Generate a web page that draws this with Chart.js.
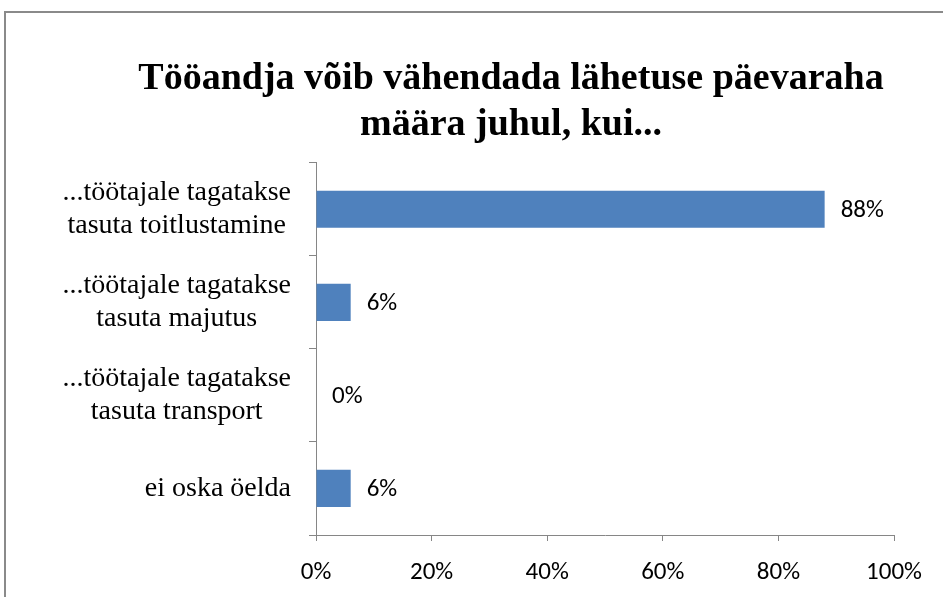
<!DOCTYPE html>
<html>
<head>
<meta charset="utf-8">
<script src="https://cdn.jsdelivr.net/npm/chart.js@4/dist/chart.umd.min.js"></script>
<style>
    html, body { margin: 0; padding: 0; background: #fff; overflow: hidden; }
    #frame {
        position: absolute; left: 4px; top: 11px;
        width: 2000px; height: 2000px;
        border: 2px solid #8a8a8a;
    }
    #wrap { position: absolute; left: 0; top: 0; width: 1022px; height: 597px; }
</style>
</head>
<body>
<div id="frame"></div>
<div id="wrap"><canvas id="chart" width="1022" height="597"></canvas></div>
<script>
const TITLE_LINES = ['Tööandja võib vähendada lähetuse päevaraha', 'määra juhul, kui...']

const categories = [
    ['...töötajale tagatakse', 'tasuta toitlustamine'],
    ['...töötajale tagatakse', 'tasuta majutus'],
    ['...töötajale tagatakse', 'tasuta transport'],
    ['ei oska öelda']
]
const shares = [88, 6, 0, 6]

const AXIS_MIN = 0
const AXIS_MAX = 100
const AXIS_STEP = 20

const AXIS_COLOR = '#868686'
const BAR_COLOR = '#4F81BD'
const SANS = 'Carlito, Lato, sans-serif'
const SERIF = '"Liberation Serif", "Times New Roman", serif'


// category labels: lines centred on each other, block right-aligned to the axis
const categoryLabels = {
    id: 'categoryLabels',
    afterDraw(chart) {
        const ctx = chart.ctx
        const yScale = chart.scales.y
        const lineH = 33
        ctx.save()
        ctx.font = '28px ' + SERIF
        ctx.fillStyle = '#000'
        ctx.textAlign = 'center'
        ctx.textBaseline = 'middle'
        categories.forEach((lines, i) => {
            const y = yScale.getPixelForValue(i)
            const blockW = Math.max(...lines.map(l => ctx.measureText(l).width))
            const cx = chart.chartArea.left - 25 - blockW / 2
            const y0 = y - (lines.length - 1) * lineH / 2
            lines.forEach((l, k) => ctx.fillText(l, cx, y0 + k * lineH))
        })
        ctx.restore()
    }
}

const valueLabels = {
    id: 'valueLabels',
    afterDatasetsDraw(chart) {
        const ctx = chart.ctx
        const meta = chart.getDatasetMeta(0)
        ctx.save()
        ctx.font = '25px ' + SANS
        ctx.fillStyle = '#000'
        ctx.textAlign = 'left'
        ctx.textBaseline = 'middle'
        meta.data.forEach((bar, i) => {
            ctx.fillText(shares[i] + '%', bar.x + 16, bar.y + 1)
        })
        ctx.restore()
    }
}


new Chart(document.getElementById('chart'), {
    type: 'bar',
    data: {
        labels: categories,
        datasets: [{
            data: shares,
            backgroundColor: BAR_COLOR,
            borderWidth: 0,
            barPercentage: 0.4,
            categoryPercentage: 1.0
        }]
    },
    options: {
        indexAxis: 'y',
        responsive: false,
        animation: false,
        // left/right padding kept equal so the title centres on the frame
        layout: { padding: { left: 128, right: 128, top: 0, bottom: 0 } },
        plugins: {
            legend: { display: false },
            tooltip: { enabled: false },
            title: {
                display: true,
                text: TITLE_LINES,
                color: '#000',
                font: { family: SERIF, size: 38, weight: 'bold', lineHeight: 1.22 },
                padding: { top: 56, bottom: 14 }
            }
        },
        scales: {
            x: {
                min: AXIS_MIN,
                max: AXIS_MAX,
                afterFit(scale) { scale.height = 62 },
                ticks: {
                    stepSize: AXIS_STEP,
                    color: '#000',
                    padding: 17,
                    font: { family: SANS, size: 25 },
                    callback: v => v + '%'
                },
                grid: { drawOnChartArea: false, drawTicks: true, tickLength: 6, color: AXIS_COLOR },
                border: { display: true, color: AXIS_COLOR, width: 1 }
            },
            y: {
                afterFit(scale) { scale.width = 316 - 128 },
                ticks: { display: false },
                grid: { drawOnChartArea: false, drawTicks: true, tickLength: 7, color: AXIS_COLOR, offset: true },
                border: { display: true, color: AXIS_COLOR, width: 1 }
            }
        }
    },
    plugins: [categoryLabels, valueLabels]
})
</script>
</body>
</html>
